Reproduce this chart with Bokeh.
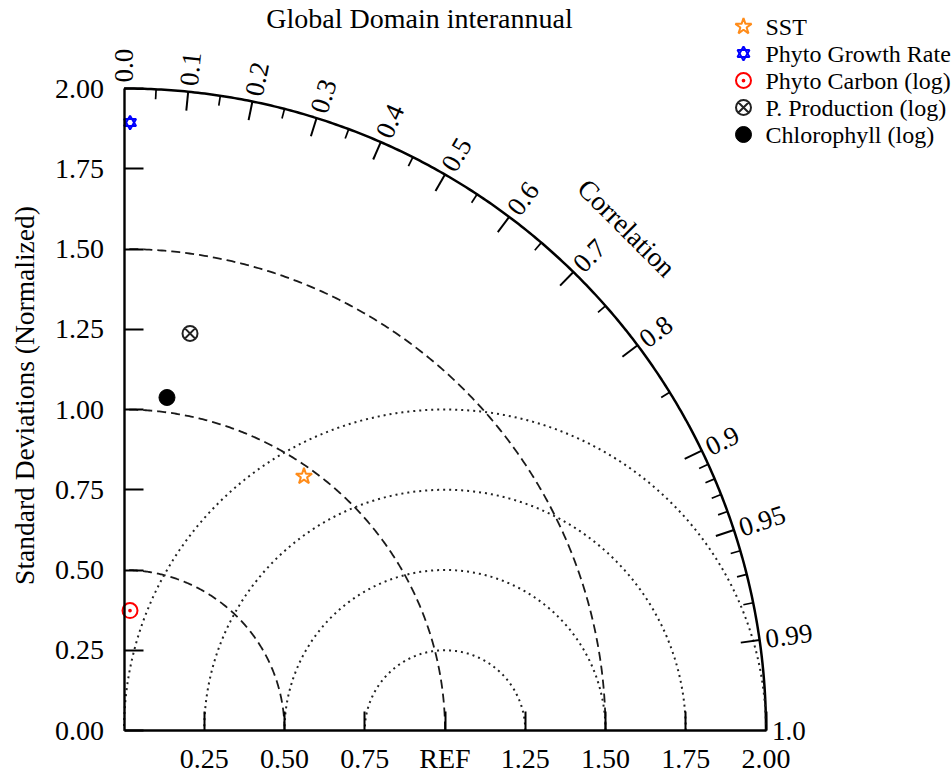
import numpy as np
from bokeh.plotting import figure
from bokeh.models import (LinearAxis, FixedTicker, Range1d, ColumnDataSource, Label,
                          NumeralTickFormatter)
from bokeh.core.properties import value
from bokeh.embed import file_html
from bokeh.resources import INLINE

# ---- data -------------------------------------------------------------
names = ["SST", "Phyto Growth Rate", "Phyto Carbon (log)",
         "P. Production (log)", "Chlorophyll (log)"]
std_norm = [0.970, 1.894, 0.374, 1.254, 1.046]        # normalized standard deviation
correlation = [0.578, 0.010, 0.050, 0.164, 0.128]     # correlation with reference

std_ticks = [0.0, 0.25, 0.5, 0.75, 1.0, 1.25, 1.5, 1.75, 2.0]
std_arcs = [0.5, 1.0, 1.5]                 # dashed standard-deviation contours
rms_arcs = [0.25, 0.5, 0.75, 1.0]          # dotted centred-RMS contours around REF
corr_major = [0.0, 0.1, 0.2, 0.3, 0.4, 0.5, 0.6, 0.7, 0.8, 0.9, 0.95, 0.99, 1.0]
corr_major_labels = ["0.0", "0.1", "0.2", "0.3", "0.4", "0.5", "0.6", "0.7",
                     "0.8", "0.9", "0.95", "0.99", "1.0"]
corr_minor = [0.05, 0.15, 0.25, 0.35, 0.45, 0.55, 0.65, 0.75, 0.85,
              0.91, 0.92, 0.93, 0.94, 0.96, 0.97, 0.98]
REF = 1.0
STD_MAX = 2.0

FONT = "Liberation Serif"

# ---- figure: data units map 321 px per unit on both axes --------------
W, H = 951, 780
PX = 321.0
ox, oy = 123.5, 50.0   # screen position of the origin (from left, from bottom)
p = figure(width=W, height=H, output_backend="svg", toolbar_location=None,
           x_range=Range1d(-ox / PX, (W - ox) / PX),
           y_range=Range1d(-oy / PX, (H - oy) / PX),
           x_axis_type=None, y_axis_type=None, min_border=0)
p.outline_line_color = None
p.grid.visible = False


def sx(px):
    """screen x (px from left) -> data x"""
    return (px - ox) / PX


def sy(py):
    """screen y (px from top) -> data y"""
    return (H - oy - py) / PX


# ---- axes ------------------------------------------------------------
yax = LinearAxis(fixed_location=0, bounds=(0, STD_MAX),
                 ticker=FixedTicker(ticks=std_ticks),
                 formatter=NumeralTickFormatter(format="0.00"))
xax = LinearAxis(fixed_location=0, bounds=(0, STD_MAX),
                 ticker=FixedTicker(ticks=std_ticks[1:]),
                 formatter=NumeralTickFormatter(format="0.00"),
                 major_label_overrides={1: "REF"})
for ax in (yax, xax):
    ax.axis_line_width = 2.4
    ax.axis_line_color = "black"
    ax.major_tick_in = 19
    ax.major_tick_out = 0
    ax.major_tick_line_width = 2
    ax.major_tick_line_color = "black"
    ax.minor_tick_line_color = None
    ax.major_label_text_font = FONT
    ax.major_label_text_font_size = "28px"
    ax.major_label_text_color = "black"
yax.major_label_standoff = 20
xax.major_label_standoff = 12
p.add_layout(yax, "left")
p.add_layout(xax, "below")

# y-axis title
p.add_layout(Label(x=24, y=H - 395, x_units="screen", y_units="screen",
                   text="Standard Deviations (Normalized)", angle=np.pi / 2,
                   text_font=FONT, text_font_size="27.5px", text_color="black",
                   text_align="center", text_baseline="middle"))

# ---- outer correlation arc -------------------------------------------
th = np.linspace(0, np.pi / 2, 300)
p.line(STD_MAX * np.cos(th), STD_MAX * np.sin(th), line_color="black", line_width=2.5)

# std-dev contours (dashed)
for r in std_arcs:
    p.line(r * np.cos(th), r * np.sin(th), line_color="#1a1a1a", line_width=1.8,
           line_dash="9 5")

# centred RMS contours around REF (dotted)
ph = np.linspace(0, np.pi, 300)
for r in rms_arcs:
    p.line(REF + r * np.cos(ph), r * np.sin(ph), line_color="#222222", line_width=2,
           line_dash="2 4")

# correlation ticks (pointing inward)
def corr_ticks(vals, length):
    t = np.arccos(np.array(vals))
    return (STD_MAX * np.cos(t), STD_MAX * np.sin(t),
            (STD_MAX - length) * np.cos(t), (STD_MAX - length) * np.sin(t))

x0, y0, x1, y1 = corr_ticks(corr_major[1:-1], 19 / PX)
p.segment(x0, y0, x1, y1, line_color="black", line_width=2)
x0, y0, x1, y1 = corr_ticks(corr_minor, 10 / PX)
p.segment(x0, y0, x1, y1, line_color="black", line_width=1.7)

# correlation labels, radial
t_lab = np.arccos(np.array(corr_major))
r_lab = STD_MAX + 6 / PX
lab_src = ColumnDataSource(dict(x=r_lab * np.cos(t_lab), y=r_lab * np.sin(t_lab),
                                a=t_lab, text=corr_major_labels))
p.text(x="x", y="y", text="text", angle="a", source=lab_src,
       text_font=value(FONT), text_font_size="27px", text_color="black",
       text_align="left", text_baseline="middle")

t_c = np.pi / 4
r_c = STD_MAX + 0.215
p.text(x=[r_c * np.cos(t_c)], y=[r_c * np.sin(t_c)], text=["Correlation"],
       angle=[t_c - np.pi / 2], text_font=value(FONT), text_font_size="27.5px",
       text_color="black", text_align="center", text_baseline="middle")

# ---- model points + legend keys ----------------------------------------
c = np.array(correlation)
s = np.array(std_norm)
px_ = s * c
py_ = s * np.sqrt(1 - c ** 2)

# legend rows: key column and text column, stacked from the top right
row_y = [sy(26 + 27 * i) for i in range(len(names))]
key_x = sx(743)
text_x = sx(765)

styles = [
    [dict(marker="star", size=17, fill_color=None, line_color="#FF8C1A", line_width=2)],
    [dict(marker="triangle", size=12, fill_color=None, line_color="#0000FF", line_width=2),
     dict(marker="inverted_triangle", size=12, fill_color=None, line_color="#0000FF",
          line_width=2)],
    [dict(marker="circle_dot", size=15, fill_color=None, line_color="#FF0000", line_width=2)],
    [dict(marker="circle_x", size=15, fill_color=None, line_color="#222222", line_width=2)],
    [dict(marker="circle", size=16, fill_color="black", line_color="black")],
]
for i, sty in enumerate(styles):
    for st in sty:
        p.scatter([px_[i], key_x], [py_[i], row_y[i]], **st)

p.text(x=[text_x] * len(names), y=row_y, text=names, text_font=value(FONT),
       text_font_size="24px", text_color="black", text_align="left",
       text_baseline="middle")

# ---- title -----------------------------------------------------------
p.add_layout(Label(x=419, y=H - 18, x_units="screen", y_units="screen",
                   text="Global Domain interannual", text_font=FONT,
                   text_font_size="28px", text_color="black",
                   text_align="center", text_baseline="middle"))

open("out.html", "w").write(file_html(p, INLINE))
